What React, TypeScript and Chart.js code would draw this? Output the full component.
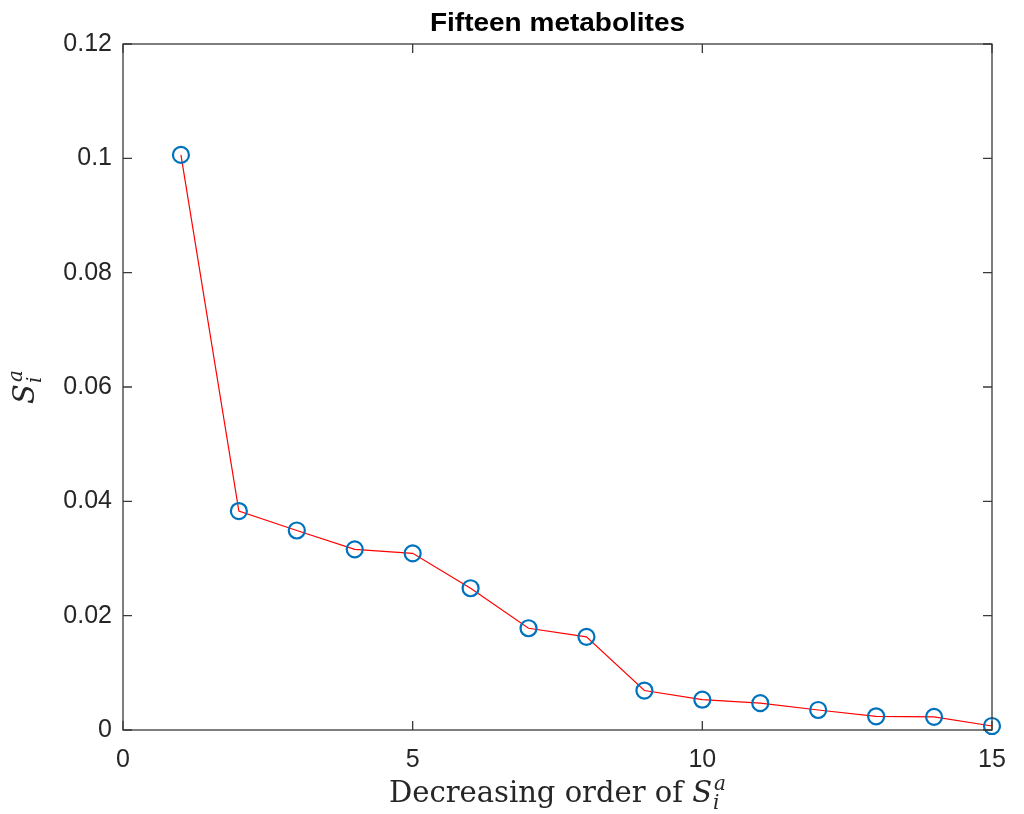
import React, { useEffect, useRef } from "react";
import { Chart, registerables } from "chart.js";

Chart.register(...registerables);

const ranks = [1, 2, 3, 4, 5, 6, 7, 8, 9, 10, 11, 12, 13, 14, 15];
const sValues = [0.1006, 0.0383, 0.0349, 0.0316, 0.0309, 0.0248, 0.0178, 0.0163, 0.0069, 0.0053, 0.0047, 0.0035, 0.0024, 0.0023, 0.0007];
const xTickValues = [0, 5, 10, 15];
const yTickValues = [0, 0.02, 0.04, 0.06, 0.08, 0.1, 0.12];
const titleText = "Fifteen metabolites";
const xLabelText = "Decreasing order of ";

const AXIS_COLOR = "#3a3a3a";
const TEXT_COLOR = "#262626";

const framePlugin = {
  id: "matlabFrame",
  afterDraw(chart: any) {
    const { ctx, chartArea, scales } = chart;
    const { left, right, top, bottom } = chartArea;
    const xs = scales.x;
    const ys = scales.y;
    ctx.save();
    ctx.strokeStyle = AXIS_COLOR;
    ctx.lineWidth = 1.3;
    ctx.strokeRect(left, top, right - left, bottom - top);
    const tl = 9;
    ctx.beginPath();
    xTickValues.forEach((v) => {
      const px = xs.getPixelForValue(v);
      ctx.moveTo(px, bottom);
      ctx.lineTo(px, bottom - tl);
      ctx.moveTo(px, top);
      ctx.lineTo(px, top + tl);
    });
    yTickValues.forEach((v) => {
      const py = ys.getPixelForValue(v);
      ctx.moveTo(left, py);
      ctx.lineTo(left + tl, py);
      ctx.moveTo(right, py);
      ctx.lineTo(right - tl, py);
    });
    ctx.stroke();

    // Title
    ctx.fillStyle = "#000000";
    ctx.textAlign = "center";
    ctx.textBaseline = "alphabetic";
    ctx.font = "bold 25px 'Liberation Sans', Arial, sans-serif";
    const cx = (left + right) / 2;
    ctx.save();
    ctx.translate(cx, 30.5);
    ctx.scale(1.12, 1);
    ctx.fillText(titleText, 0, 0);
    ctx.restore();

    // X label: "Decreasing order of S_i^a"
    ctx.fillStyle = TEXT_COLOR;
    const mainFont = "29px 'DejaVu Serif', serif";
    const sFont = "italic 29px 'DejaVu Serif', serif";
    const smallFont = "italic 20px 'DejaVu Serif', serif";
    ctx.font = mainFont;
    const w1 = ctx.measureText(xLabelText).width;
    ctx.font = sFont;
    const wS = ctx.measureText("S").width;
    ctx.font = smallFont;
    const wA = ctx.measureText("a").width;
    const total = w1 + wS + 2 + wA;
    const x0 = cx - total / 2;
    const base = 802;
    ctx.textAlign = "left";
    ctx.font = mainFont;
    ctx.fillText(xLabelText, x0, base);
    ctx.font = sFont;
    ctx.fillText("S", x0 + w1, base);
    ctx.font = smallFont;
    ctx.fillText("a", x0 + w1 + wS + 2, base - 12);
    ctx.fillText("i", x0 + w1 + wS + 1, base + 7);

    // Y label rotated
    ctx.save();
    const cy = (top + bottom) / 2;
    ctx.translate(34, cy);
    ctx.rotate(-Math.PI / 2);
    ctx.font = sFont;
    const ySW = ctx.measureText("S").width;
    const yTotal = ySW + 2 + wA;
    const yx0 = -yTotal / 2;
    ctx.fillText("S", yx0, 0);
    ctx.font = smallFont;
    ctx.fillText("a", yx0 + ySW + 2, -12);
    ctx.fillText("i", yx0 + ySW + 1, 7);
    ctx.restore();

    ctx.restore();
  },
};

export default function App() {
  const canvasRef = useRef<HTMLCanvasElement | null>(null);

  useEffect(() => {
    const canvas = canvasRef.current;
    if (!canvas) return;
    const chart = new Chart(canvas, {
      type: "line",
      data: {
        datasets: [
          {
            data: ranks.map((r, i) => ({ x: r, y: sValues[i] })),
            borderColor: "#ff0000",
            borderWidth: 1.2,
            pointRadius: 8,
            pointHoverRadius: 8,
            pointBorderColor: "#0072bd",
            pointBackgroundColor: "rgba(0,0,0,0)",
            pointBorderWidth: 2.2,
            tension: 0,
            fill: false,
            clip: false as any,
          },
        ],
      },
      options: {
        animation: false,
        responsive: false,
        events: [],
        layout: { padding: { top: 44, right: 32, left: 0, bottom: 0 } },
        plugins: {
          legend: { display: false },
          tooltip: { enabled: false },
          title: { display: false },
        },
        scales: {
          x: {
            type: "linear",
            min: 0,
            max: 15,
            afterBuildTicks: (scale: any) => {
              scale.ticks = xTickValues.map((v) => ({ value: v }));
            },
            afterFit: (scale: any) => {
              scale.height = 84;
            },
            grid: { display: false, drawTicks: false },
            border: { display: false },
            ticks: {
              padding: 15,
              color: TEXT_COLOR,
              font: { family: "'Liberation Sans', Arial, sans-serif", size: 25 },
              maxRotation: 0,
              callback: (v: any) => String(v),
            },
          },
          y: {
            type: "linear",
            min: 0,
            max: 0.12,
            afterBuildTicks: (scale: any) => {
              scale.ticks = yTickValues.map((v) => ({ value: v }));
            },
            afterFit: (scale: any) => {
              scale.width = 123;
            },
            grid: { display: false, drawTicks: false },
            border: { display: false },
            ticks: {
              padding: 11,
              color: TEXT_COLOR,
              font: { family: "'Liberation Sans', Arial, sans-serif", size: 25 },
              callback: (v: any) => String(Number(Number(v).toFixed(2))),
            },
          },
        },
      },
      plugins: [framePlugin],
    });
    return () => chart.destroy();
  }, []);

  return (
    <div style={{ position: "fixed", left: 0, top: 0, width: 1024, height: 814, background: "#ffffff" }}>
      <canvas ref={canvasRef} width={1024} height={814} style={{ display: "block", width: 1024, height: 814 }} />
    </div>
  );
}
